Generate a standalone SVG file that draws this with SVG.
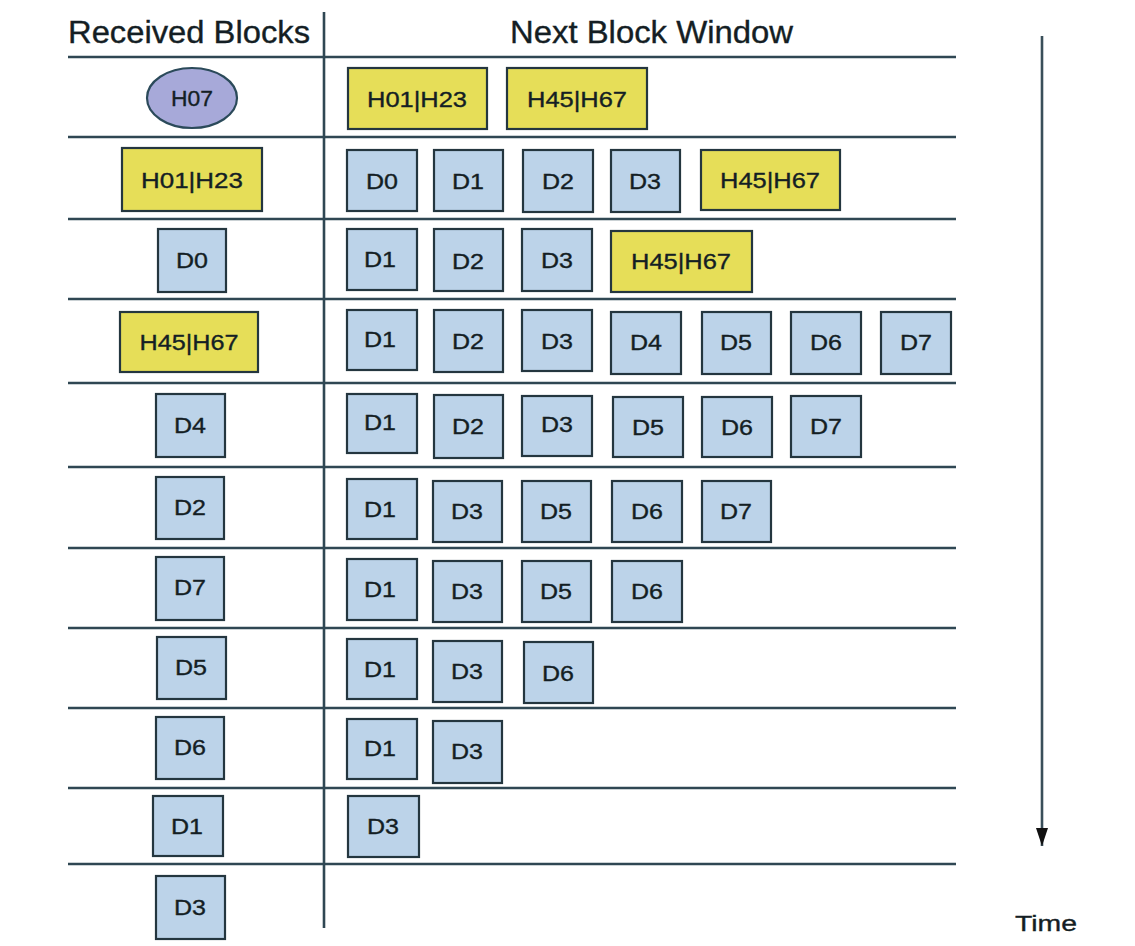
<svg xmlns="http://www.w3.org/2000/svg" width="1135" height="946" viewBox="0 0 1135 946">
<style>
.bg{fill:#ffffff}
.grid{stroke:#2f4753;stroke-width:2.6;fill:none}
.d{fill:#bcd3e9;stroke:#24363f;stroke-width:2.2}
.h{fill:#e6de58;stroke:#24363f;stroke-width:2.2}
.e{fill:#a7a9d9;stroke:#2b4a5a;stroke-width:2.2}
.t{font-family:"Liberation Sans",Arial,sans-serif;font-size:22px;fill:#141e24;text-anchor:middle;stroke:#141e24;stroke-width:0.35}
.hd{font-family:"Liberation Sans",Arial,sans-serif;font-size:31px;fill:#141e24;stroke:#141e24;stroke-width:0.35}
.arr{stroke:#3a4f5a;stroke-width:2.6;fill:none}
</style>
<defs>
<marker id="ah" viewBox="0 0 18 12" refX="18" refY="6" markerWidth="18" markerHeight="12" markerUnits="userSpaceOnUse" orient="auto">
<path d="M0,0 L18,6 L0,12 Z" fill="#111"/>
</marker>
</defs>
<rect class="bg" x="0" y="0" width="1135" height="946"/>

<g id="headers">
<text class="hd" x="68" y="43" textLength="242" lengthAdjust="spacingAndGlyphs">Received Blocks</text>
<text class="hd" x="510" y="43" textLength="283" lengthAdjust="spacingAndGlyphs">Next Block Window</text>
</g>

<g id="connectors">
<line class="grid" x1="324" y1="12" x2="324" y2="928"/>
<line class="grid" x1="68" y1="57" x2="956" y2="57"/>
<line class="grid" x1="68" y1="137" x2="956" y2="137"/>
<line class="grid" x1="68" y1="219" x2="956" y2="219"/>
<line class="grid" x1="68" y1="299" x2="956" y2="299"/>
<line class="grid" x1="68" y1="383" x2="956" y2="383"/>
<line class="grid" x1="68" y1="467" x2="956" y2="467"/>
<line class="grid" x1="68" y1="548" x2="956" y2="548"/>
<line class="grid" x1="68" y1="628" x2="956" y2="628"/>
<line class="grid" x1="68" y1="708" x2="956" y2="708"/>
<line class="grid" x1="68" y1="788" x2="956" y2="788"/>
<line class="grid" x1="68" y1="864" x2="956" y2="864"/>
<line class="arr" x1="1042" y1="36" x2="1042" y2="846" marker-end="url(#ah)"/>
</g>

<g id="time-label"><text class="t" x="1046" y="931" font-size="27" textLength="62" lengthAdjust="spacingAndGlyphs">Time</text></g>

<!-- Row 0 -->
<g id="r0-recv-H07"><ellipse class="e" cx="192" cy="98" rx="45" ry="30"/><text class="t" x="192" y="106" textLength="42" lengthAdjust="spacingAndGlyphs">H07</text></g>
<g id="r0-w-H01H23"><rect class="h" x="348" y="68" width="139" height="61"/><text class="t" x="417" y="107" textLength="100" lengthAdjust="spacingAndGlyphs">H01|H23</text></g>
<g id="r0-w-H45H67"><rect class="h" x="507" y="68" width="140" height="61"/><text class="t" x="577" y="107" textLength="100" lengthAdjust="spacingAndGlyphs">H45|H67</text></g>

<!-- Row 1 -->
<g id="r1-recv-H01H23"><rect class="h" x="122" y="148" width="140" height="63"/><text class="t" x="192" y="188" textLength="102" lengthAdjust="spacingAndGlyphs">H01|H23</text></g>
<g id="r1-w-D0"><rect class="d" x="347" y="150" width="70" height="61"/><text class="t" x="382" y="189" textLength="32" lengthAdjust="spacingAndGlyphs">D0</text></g>
<g id="r1-w-D1"><rect class="d" x="434" y="150" width="69" height="61"/><text class="t" x="468" y="189" textLength="32" lengthAdjust="spacingAndGlyphs">D1</text></g>
<g id="r1-w-D2"><rect class="d" x="523" y="150" width="70" height="62"/><text class="t" x="558" y="189" textLength="32" lengthAdjust="spacingAndGlyphs">D2</text></g>
<g id="r1-w-D3"><rect class="d" x="611" y="150" width="69" height="62"/><text class="t" x="645" y="189" textLength="32" lengthAdjust="spacingAndGlyphs">D3</text></g>
<g id="r1-w-H45H67"><rect class="h" x="701" y="150" width="139" height="60"/><text class="t" x="770" y="188" textLength="100" lengthAdjust="spacingAndGlyphs">H45|H67</text></g>

<!-- Row 2 -->
<g id="r2-recv-D0"><rect class="d" x="158" y="229" width="68" height="63"/><text class="t" x="192" y="268" textLength="32" lengthAdjust="spacingAndGlyphs">D0</text></g>
<g id="r2-w-D1"><rect class="d" x="347" y="229" width="70" height="61"/><text class="t" x="380" y="267" textLength="32" lengthAdjust="spacingAndGlyphs">D1</text></g>
<g id="r2-w-D2"><rect class="d" x="434" y="229" width="69" height="62"/><text class="t" x="468" y="269" textLength="32" lengthAdjust="spacingAndGlyphs">D2</text></g>
<g id="r2-w-D3"><rect class="d" x="522" y="229" width="70" height="62"/><text class="t" x="557" y="268" textLength="32" lengthAdjust="spacingAndGlyphs">D3</text></g>
<g id="r2-w-H45H67"><rect class="h" x="611" y="231" width="141" height="61"/><text class="t" x="681" y="269" textLength="100" lengthAdjust="spacingAndGlyphs">H45|H67</text></g>

<!-- Row 3 -->
<g id="r3-recv-H45H67"><rect class="h" x="120" y="312" width="138" height="60"/><text class="t" x="189" y="350" textLength="99" lengthAdjust="spacingAndGlyphs">H45|H67</text></g>
<g id="r3-w-D1"><rect class="d" x="347" y="310" width="70" height="60"/><text class="t" x="380" y="347" textLength="32" lengthAdjust="spacingAndGlyphs">D1</text></g>
<g id="r3-w-D2"><rect class="d" x="434" y="310" width="69" height="62"/><text class="t" x="468" y="349" textLength="32" lengthAdjust="spacingAndGlyphs">D2</text></g>
<g id="r3-w-D3"><rect class="d" x="522" y="310" width="70" height="61"/><text class="t" x="557" y="349" textLength="32" lengthAdjust="spacingAndGlyphs">D3</text></g>
<g id="r3-w-D4"><rect class="d" x="611" y="312" width="70" height="62"/><text class="t" x="646" y="350" textLength="32" lengthAdjust="spacingAndGlyphs">D4</text></g>
<g id="r3-w-D5"><rect class="d" x="702" y="312" width="69" height="62"/><text class="t" x="736" y="350" textLength="32" lengthAdjust="spacingAndGlyphs">D5</text></g>
<g id="r3-w-D6"><rect class="d" x="791" y="312" width="70" height="62"/><text class="t" x="826" y="350" textLength="32" lengthAdjust="spacingAndGlyphs">D6</text></g>
<g id="r3-w-D7"><rect class="d" x="881" y="312" width="70" height="62"/><text class="t" x="916" y="350" textLength="32" lengthAdjust="spacingAndGlyphs">D7</text></g>

<!-- Row 4 -->
<g id="r4-recv-D4"><rect class="d" x="156" y="394" width="69" height="63"/><text class="t" x="190" y="433" textLength="32" lengthAdjust="spacingAndGlyphs">D4</text></g>
<g id="r4-w-D1"><rect class="d" x="347" y="394" width="70" height="59"/><text class="t" x="380" y="430" textLength="32" lengthAdjust="spacingAndGlyphs">D1</text></g>
<g id="r4-w-D2"><rect class="d" x="434" y="395" width="69" height="63"/><text class="t" x="468" y="434" textLength="32" lengthAdjust="spacingAndGlyphs">D2</text></g>
<g id="r4-w-D3"><rect class="d" x="522" y="396" width="70" height="60"/><text class="t" x="557" y="432" textLength="32" lengthAdjust="spacingAndGlyphs">D3</text></g>
<g id="r4-w-D5"><rect class="d" x="613" y="397" width="70" height="60"/><text class="t" x="648" y="435" textLength="32" lengthAdjust="spacingAndGlyphs">D5</text></g>
<g id="r4-w-D6"><rect class="d" x="702" y="397" width="70" height="60"/><text class="t" x="737" y="435" textLength="32" lengthAdjust="spacingAndGlyphs">D6</text></g>
<g id="r4-w-D7"><rect class="d" x="791" y="396" width="70" height="61"/><text class="t" x="826" y="434" textLength="32" lengthAdjust="spacingAndGlyphs">D7</text></g>

<!-- Row 5 -->
<g id="r5-recv-D2"><rect class="d" x="156" y="477" width="68" height="62"/><text class="t" x="190" y="515" textLength="32" lengthAdjust="spacingAndGlyphs">D2</text></g>
<g id="r5-w-D1"><rect class="d" x="347" y="479" width="70" height="60"/><text class="t" x="380" y="517" textLength="32" lengthAdjust="spacingAndGlyphs">D1</text></g>
<g id="r5-w-D3"><rect class="d" x="433" y="481" width="69" height="61"/><text class="t" x="467" y="519" textLength="32" lengthAdjust="spacingAndGlyphs">D3</text></g>
<g id="r5-w-D5"><rect class="d" x="522" y="481" width="69" height="61"/><text class="t" x="556" y="519" textLength="32" lengthAdjust="spacingAndGlyphs">D5</text></g>
<g id="r5-w-D6"><rect class="d" x="612" y="481" width="70" height="61"/><text class="t" x="647" y="519" textLength="32" lengthAdjust="spacingAndGlyphs">D6</text></g>
<g id="r5-w-D7"><rect class="d" x="702" y="481" width="69" height="61"/><text class="t" x="736" y="519" textLength="32" lengthAdjust="spacingAndGlyphs">D7</text></g>

<!-- Row 6 -->
<g id="r6-recv-D7"><rect class="d" x="156" y="557" width="68" height="63"/><text class="t" x="190" y="595" textLength="32" lengthAdjust="spacingAndGlyphs">D7</text></g>
<g id="r6-w-D1"><rect class="d" x="347" y="559" width="70" height="61"/><text class="t" x="380" y="597" textLength="32" lengthAdjust="spacingAndGlyphs">D1</text></g>
<g id="r6-w-D3"><rect class="d" x="433" y="561" width="69" height="61"/><text class="t" x="467" y="599" textLength="32" lengthAdjust="spacingAndGlyphs">D3</text></g>
<g id="r6-w-D5"><rect class="d" x="522" y="561" width="69" height="61"/><text class="t" x="556" y="599" textLength="32" lengthAdjust="spacingAndGlyphs">D5</text></g>
<g id="r6-w-D6"><rect class="d" x="612" y="561" width="70" height="61"/><text class="t" x="647" y="599" textLength="32" lengthAdjust="spacingAndGlyphs">D6</text></g>

<!-- Row 7 -->
<g id="r7-recv-D5"><rect class="d" x="157" y="637" width="69" height="62"/><text class="t" x="191" y="675" textLength="32" lengthAdjust="spacingAndGlyphs">D5</text></g>
<g id="r7-w-D1"><rect class="d" x="347" y="639" width="70" height="60"/><text class="t" x="380" y="677" textLength="32" lengthAdjust="spacingAndGlyphs">D1</text></g>
<g id="r7-w-D3"><rect class="d" x="433" y="641" width="69" height="61"/><text class="t" x="467" y="679" textLength="32" lengthAdjust="spacingAndGlyphs">D3</text></g>
<g id="r7-w-D6"><rect class="d" x="524" y="642" width="69" height="61"/><text class="t" x="558" y="681" textLength="32" lengthAdjust="spacingAndGlyphs">D6</text></g>

<!-- Row 8 -->
<g id="r8-recv-D6"><rect class="d" x="156" y="717" width="68" height="62"/><text class="t" x="190" y="755" textLength="32" lengthAdjust="spacingAndGlyphs">D6</text></g>
<g id="r8-w-D1"><rect class="d" x="347" y="719" width="70" height="60"/><text class="t" x="380" y="756" textLength="32" lengthAdjust="spacingAndGlyphs">D1</text></g>
<g id="r8-w-D3"><rect class="d" x="433" y="721" width="69" height="62"/><text class="t" x="467" y="759" textLength="32" lengthAdjust="spacingAndGlyphs">D3</text></g>

<!-- Row 9 -->
<g id="r9-recv-D1"><rect class="d" x="153" y="796" width="70" height="60"/><text class="t" x="187" y="834" textLength="32" lengthAdjust="spacingAndGlyphs">D1</text></g>
<g id="r9-w-D3"><rect class="d" x="348" y="796" width="71" height="61"/><text class="t" x="383" y="834" textLength="32" lengthAdjust="spacingAndGlyphs">D3</text></g>

<!-- Row 10 -->
<g id="r10-recv-D3"><rect class="d" x="156" y="876" width="69" height="63"/><text class="t" x="190" y="915" textLength="32" lengthAdjust="spacingAndGlyphs">D3</text></g>
</svg>
